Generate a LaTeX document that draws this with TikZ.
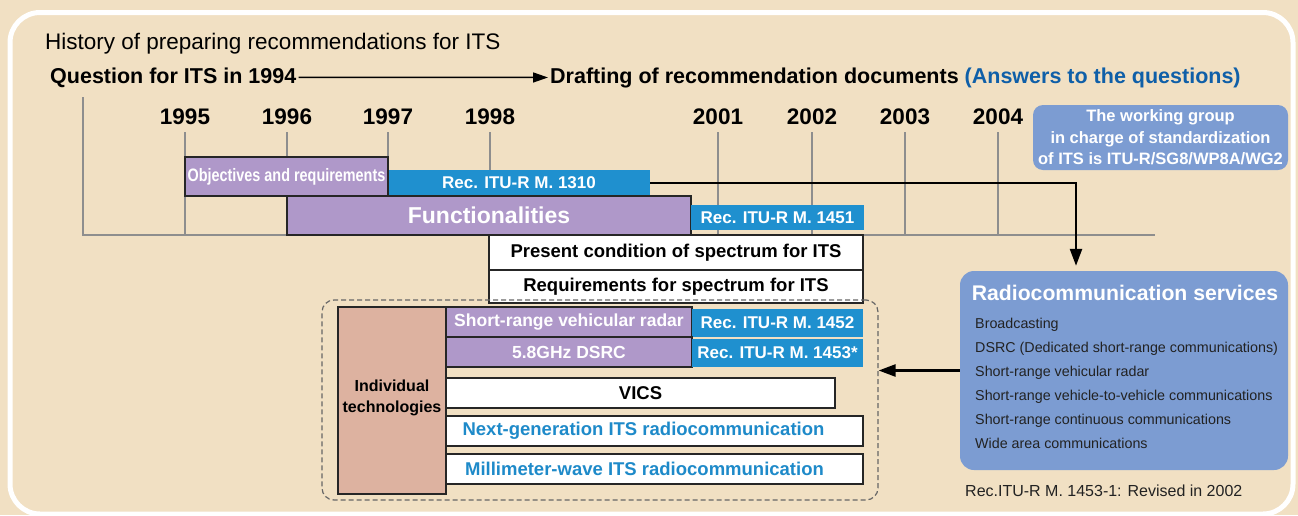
\documentclass[tikz,border=0pt]{standalone}
\usepackage{fontspec}
\setmainfont{Liberation Sans}
\newfontfamily\condfont[FakeStretch=0.8]{Liberation Sans}
\usetikzlibrary{arrows.meta}

\definecolor{bgbeige}{HTML}{F1E0C3}
\definecolor{boxpurple}{HTML}{AF98C9}
\definecolor{recblue}{HTML}{1F90CF}
\definecolor{softblue}{HTML}{7C9CD2}
\definecolor{techpink}{HTML}{DDB2A0}
\definecolor{textblue}{HTML}{1E8AC9}
\definecolor{headblue}{HTML}{0F5FA8}
\definecolor{axisgray}{HTML}{8E8E8E}
\definecolor{darktext}{HTML}{222222}

\newcommand{\fsz}[2]{\fontsize{#1}{#2}\selectfont}

\begin{document}
\begin{tikzpicture}[x=1pt,y=-1pt,
  purplebox/.style={draw=black!85,line width=1.2pt,fill=boxpurple,text=white,inner sep=0pt,font=\bfseries\fsz{17.5}{20}},
  recbox/.style={fill=recblue,text=white,inner sep=0pt,font=\bfseries\fsz{17}{20}},
  whitebox/.style={draw=black!85,line width=1.2pt,fill=white,inner sep=0pt,font=\bfseries\fsz{18.5}{20}},
  softbox/.style={fill=softblue,rounded corners=12pt,inner sep=0pt},
  yearlabel/.style={anchor=base,inner sep=0pt,font=\bfseries\fsz{22.5}{24}},
  axisline/.style={axisgray,line width=1.5pt},
  bigarrow/.style={line width=2.5pt,-{Triangle[length=17pt,width=12pt]}},
]

% Background and white frame
\useasboundingbox (0,0) rectangle (1298,515);
\fill[bgbeige] (0,0) rectangle (1298,515);
\draw[white,line width=5pt,rounded corners=30pt] (10,12.5) rectangle (1293,514);

% Headings
\node[anchor=base west,inner sep=0pt,font=\fsz{22.5}{24}] (title) at (45,49)
  {History of preparing recommendations for ITS};
\node[anchor=base west,inner sep=2pt,font=\bfseries\fsz{21.5}{24}] (question) at (48,83)
  {Question for ITS in 1994};
\node[anchor=base west,inner sep=2pt,font=\bfseries\fsz{21.5}{24}] (drafting) at (548,83)
  {Drafting of recommendation documents \textcolor{headblue}{(Answers to the questions)}};
\draw[line width=1.5pt,-{Triangle[length=15pt,width=10pt]}] (question.east) -- (drafting.west);

% Time axis
\draw[axisline] (83,97) -- (83,235) -- (1155,235);
\foreach \yr/\x in {1995/185,1996/287,1997/388,1998/490,2001/718,2002/812,2003/905,2004/998}{
  \draw[axisline] (\x,132) -- (\x,235);
  \node[yearlabel] (y\yr) at (\x,124) {\yr};
}

% Bars of the time line
\node[recbox,minimum width=262pt,minimum height=26pt] (r1310) at (519,183) {Rec. ITU-R M. 1310};
\node[purplebox,minimum width=203pt,minimum height=39pt,font=\condfont\bfseries\fsz{18}{20}] (obj) at (286.5,176.5)
  {Objectives and requirements};
\node[purplebox,minimum width=404pt,minimum height=39pt,font=\bfseries\fsz{23}{24}] (func) at (489,215.5) {Functionalities};
\node[recbox,minimum width=173pt,minimum height=25pt] (r1451) at (777.5,217.5) {Rec. ITU-R M. 1451};
\node[whitebox,minimum width=374pt,minimum height=35pt] (present) at (676,252.5) {Present condition of spectrum for ITS};
\node[whitebox,minimum width=374pt,minimum height=33pt] (reqs) at (676,286.5) {Requirements for spectrum for ITS};

% Individual technologies
\node[draw=black!60,dashed,dash pattern=on 5pt off 3pt,line width=1.2pt,rounded corners=12pt,
  minimum width=556pt,minimum height=200pt] (techs) at (600,400) {};
\node[draw=black!85,line width=1.2pt,fill=techpink,minimum width=108pt,minimum height=187pt,inner sep=0pt] (indiv) at (392,400.5) {};
\node[align=center,inner sep=0pt,font=\bfseries\fsz{16}{21}] (indivtext) at (392,398) {Individual\\technologies};
\node[purplebox,minimum width=246pt,minimum height=30pt] (radar) at (569,322) {Short-range vehicular radar};
\node[recbox,minimum width=171pt,minimum height=28pt] (r1452) at (777.5,323) {Rec. ITU-R M. 1452};
\node[purplebox,minimum width=246pt,minimum height=30pt] (dsrc) at (569,352) {5.8GHz DSRC};
\node[recbox,minimum width=171pt,minimum height=28pt] (r1453) at (777.5,353) {Rec. ITU-R M. 1453*};
\node[whitebox,minimum width=389pt,minimum height=30pt] (vics) at (640.5,393) {VICS};
\node[whitebox,minimum width=417pt,minimum height=30pt,text=textblue] (nextgen) at (654.5,431)
  {Next-generation ITS radiocommunication\kern22pt};
\node[whitebox,minimum width=417pt,minimum height=30pt,text=textblue] (mmwave) at (654.5,469)
  {Millimeter-wave ITS radiocommunication\kern20pt};

% Working group
\node[softbox,minimum width=255pt,minimum height=65pt,rounded corners=10pt,align=center,text=white,
  font=\bfseries\fsz{16.5}{21.5}] (wgroup) at (1160.5,137.5)
  {The working group\\in charge of standardization\\of ITS is ITU-R/SG8/WP8A/WG2};

% Radiocommunication services
\node[softbox,minimum width=328pt,minimum height=199pt,rounded corners=14pt] (radio) at (1124,370.5) {};
\node[anchor=base,inner sep=0pt,text=white,font=\bfseries\fsz{21.2}{24}] (radiotitle) at (1125,300)
  {Radiocommunication services};
\foreach \svc [count=\i] in {Broadcasting,DSRC (Dedicated short-range communications),Short-range vehicular radar,
  Short-range vehicle-to-vehicle communications,Short-range continuous communications,Wide area communications}{
  \node[anchor=base west,inner sep=0pt,text=darktext,font=\fsz{14.3}{16}] (svc\i) at (975,{328.5+24*(\i-1)}) {\svc};
}
\node[anchor=base west,inner sep=0pt,text=darktext,font=\fsz{16}{18}] (revised) at (965,496)
  {Rec.ITU-R M. 1453-1: Revised in 2002};

% Connectors
\coordinate (drop) at (1076,183);
\draw[bigarrow,shorten >=5pt] (r1310.east) -- (drop) -- (drop |- radio.north);
\draw[bigarrow] (radio.west) -- (radio.west -| techs.east);

\end{tikzpicture}
\end{document}
